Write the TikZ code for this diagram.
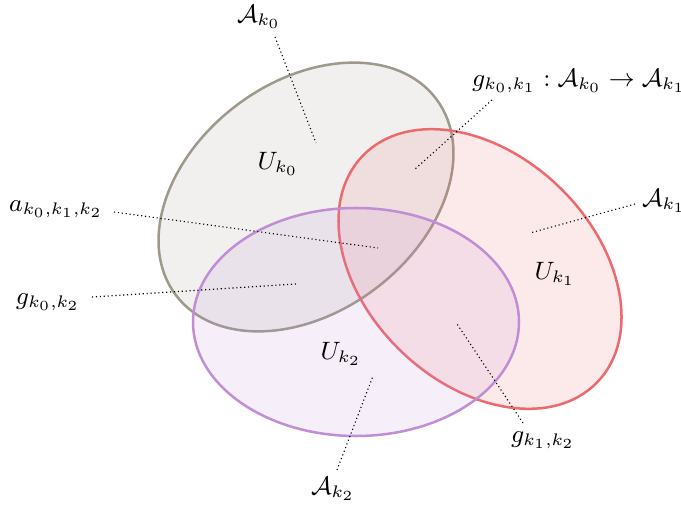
\documentclass[tikz,border=0pt]{standalone}
\usepackage{amsmath}
\usetikzlibrary{positioning}
\definecolor{setgray}{RGB}{158,152,141}
\definecolor{setred}{RGB}{236,106,110}
\definecolor{setpurple}{RGB}{192,142,212}
\begin{document}
\begin{tikzpicture}[
  x=0.01259cm, y=-0.01259cm,
  every node/.style={inner sep=1pt, font=\fontsize{9}{11}\selectfont},
  region/.style={line width=0.9pt, fill opacity=0.14},
  leader/.style={densely dotted, thin},
]
  \useasboundingbox (0,0) rectangle (681,510);

  \draw[region, draw=setgray, fill=setgray, rotate around={37:(306,197)}] (306,197) ellipse (163 and 115);
  \draw[region, draw=setred, fill=setred, rotate around={-44:(480,269)}] (480,269) ellipse (163 and 114);
  \draw[region, draw=setpurple, fill=setpurple] (356,322) ellipse (163 and 114);

  \node (Uk0) at (278,164) {$U_{k_0}$};
  \node (Uk1) at (555,274) {$U_{k_1}$};
  \node (Uk2) at (341,354) {$U_{k_2}$};

  \node (Ak0) at (259,17) {$\mathcal{A}_{k_0}$};
  \node (Ak1) at (664,201) {$\mathcal{A}_{k_1}$};
  \node (Ak2) at (333,489) {$\mathcal{A}_{k_2}$};
  \node (gk0k1) at (579,81) {$g_{k_0,k_1}:\mathcal{A}_{k_0}\to\mathcal{A}_{k_1}$};
  \node (gk0k2) at (48,302) {$g_{k_0,k_2}$};
  \node (gk1k2) at (543,440) {$g_{k_1,k_2}$};
  \node (ak) at (56,209) {$a_{k_0,k_1,k_2}$};

  \coordinate (Ak0s) at (275,37);   \coordinate (Ak0e) at (316,143);
  \coordinate (Ak1s) at (635,204);  \coordinate (Ak1e) at (530,233);
  \coordinate (Ak2s) at (337,470);  \coordinate (Ak2e) at (373,376);
  \coordinate (gk0k1s) at (492,100); \coordinate (gk0k1e) at (414,170);
  \coordinate (gk0k2s) at (92,297);  \coordinate (gk0k2e) at (296,284);
  \coordinate (gk1k2s) at (523,423); \coordinate (gk1k2e) at (457,324);
  \coordinate (aks) at (114,212);    \coordinate (ake) at (378,248);

  \draw[leader] (Ak0s) -- (Ak0e);
  \draw[leader] (Ak1s) -- (Ak1e);
  \draw[leader] (Ak2s) -- (Ak2e);
  \draw[leader] (gk0k1s) -- (gk0k1e);
  \draw[leader] (gk0k2s) -- (gk0k2e);
  \draw[leader] (gk1k2s) -- (gk1k2e);
  \draw[leader] (aks) -- (ake);
\end{tikzpicture}
\end{document}
